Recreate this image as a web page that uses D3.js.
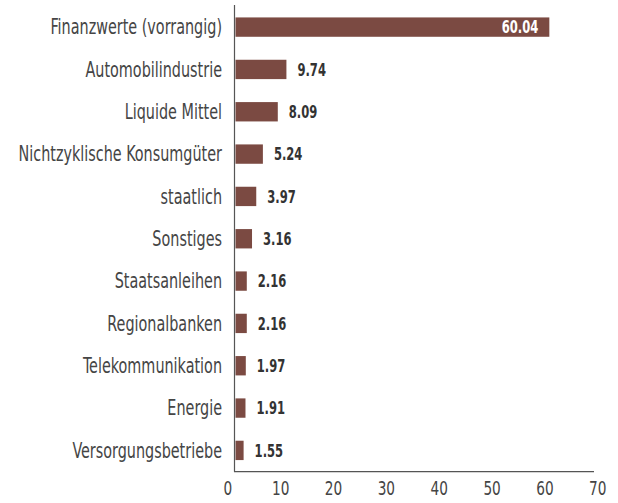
<!DOCTYPE html>
<html><head><meta charset="utf-8">
<script src="https://cdn.jsdelivr.net/npm/d3@7"></script>
<style>
body{margin:0;background:#fff;}
text{font-family:"DejaVu Sans Condensed","DejaVu Sans",sans-serif;}
</style></head>
<body><svg id="c" width="618" height="503"></svg>
<script>
const categories = ["Finanzwerte (vorrangig)","Automobilindustrie","Liquide Mittel","Nichtzyklische Konsumgüter","staatlich","Sonstiges","Staatsanleihen","Regionalbanken","Telekommunikation","Energie","Versorgungsbetriebe"];
const values = [60.04,9.74,8.09,5.24,3.97,3.16,2.16,2.16,1.97,1.91,1.55];
const valueLabels = ["60.04","9.74","8.09","5.24","3.97","3.16","2.16","2.16","1.97","1.91","1.55"];
const tickValues = [0,10,20,30,40,50,60,70];

const SX = 0.78;
const svg = d3.select("#c");
const x = d3.scaleLinear().domain([0,70]).range([235.5,601.4]);
const xTicks = d3.scaleLinear().domain([0,70]).range([227.3,597.3]);
const y = d3.scaleBand().domain(categories).range([6,471.5]).paddingInner(0.543).paddingOuter(0.27);
const barColor = "#7b4a42";

svg.selectAll("rect.bar").data(values).enter().append("rect")
  .attr("x", x(0)).attr("y",(d,i)=>y(categories[i]))
  .attr("width", d=>x(d)-x(0)).attr("height", y.bandwidth())
  .attr("fill", barColor);

svg.append("line").attr("x1",234.5).attr("x2",234.5).attr("y1",5).attr("y2",471.7).attr("stroke","#555").attr("stroke-width",1.2);
svg.append("line").attr("x1",234).attr("x2",594).attr("y1",471.7).attr("y2",471.7).attr("stroke","#555").attr("stroke-width",1.2);

svg.selectAll("text.cat").data(categories).enter().append("text")
  .attr("transform",d=>`translate(222,${y(d)+y.bandwidth()/2}) scale(${SX},1)`)
  .attr("dy","0.36em")
  .attr("text-anchor","end").attr("fill","#454545").style("font-size","20.5px").text(d=>d);

svg.selectAll("text.val").data(values).enter().append("text")
  .attr("transform",(d,i)=>`translate(${i===0 ? x(d)-11 : x(d)+11},${y(categories[i])+y.bandwidth()/2}) scale(${SX*0.97},1)`)
  .attr("dy","0.36em")
  .attr("text-anchor",(d,i)=> i===0 ? "end":"start")
  .attr("fill",(d,i)=> i===0 ? "#fff":"#333")
  .style("font-size","17px").style("font-weight","bold")
  .text((d,i)=>valueLabels[i]);

const ax = d3.axisBottom(xTicks).tickValues(tickValues).tickSize(0).tickPadding(0).tickFormat(d3.format("d"));
const g = svg.append("g").attr("transform","translate(0,481)").call(ax);
g.select(".domain").remove();
g.selectAll("text").attr("fill","#454545").attr("dy","0.71em").attr("y",0)
  .attr("transform",`scale(${SX},1)`)
  .style("font-size","19.5px").style("font-family",'"DejaVu Sans Condensed","DejaVu Sans",sans-serif');
</script></body></html>
